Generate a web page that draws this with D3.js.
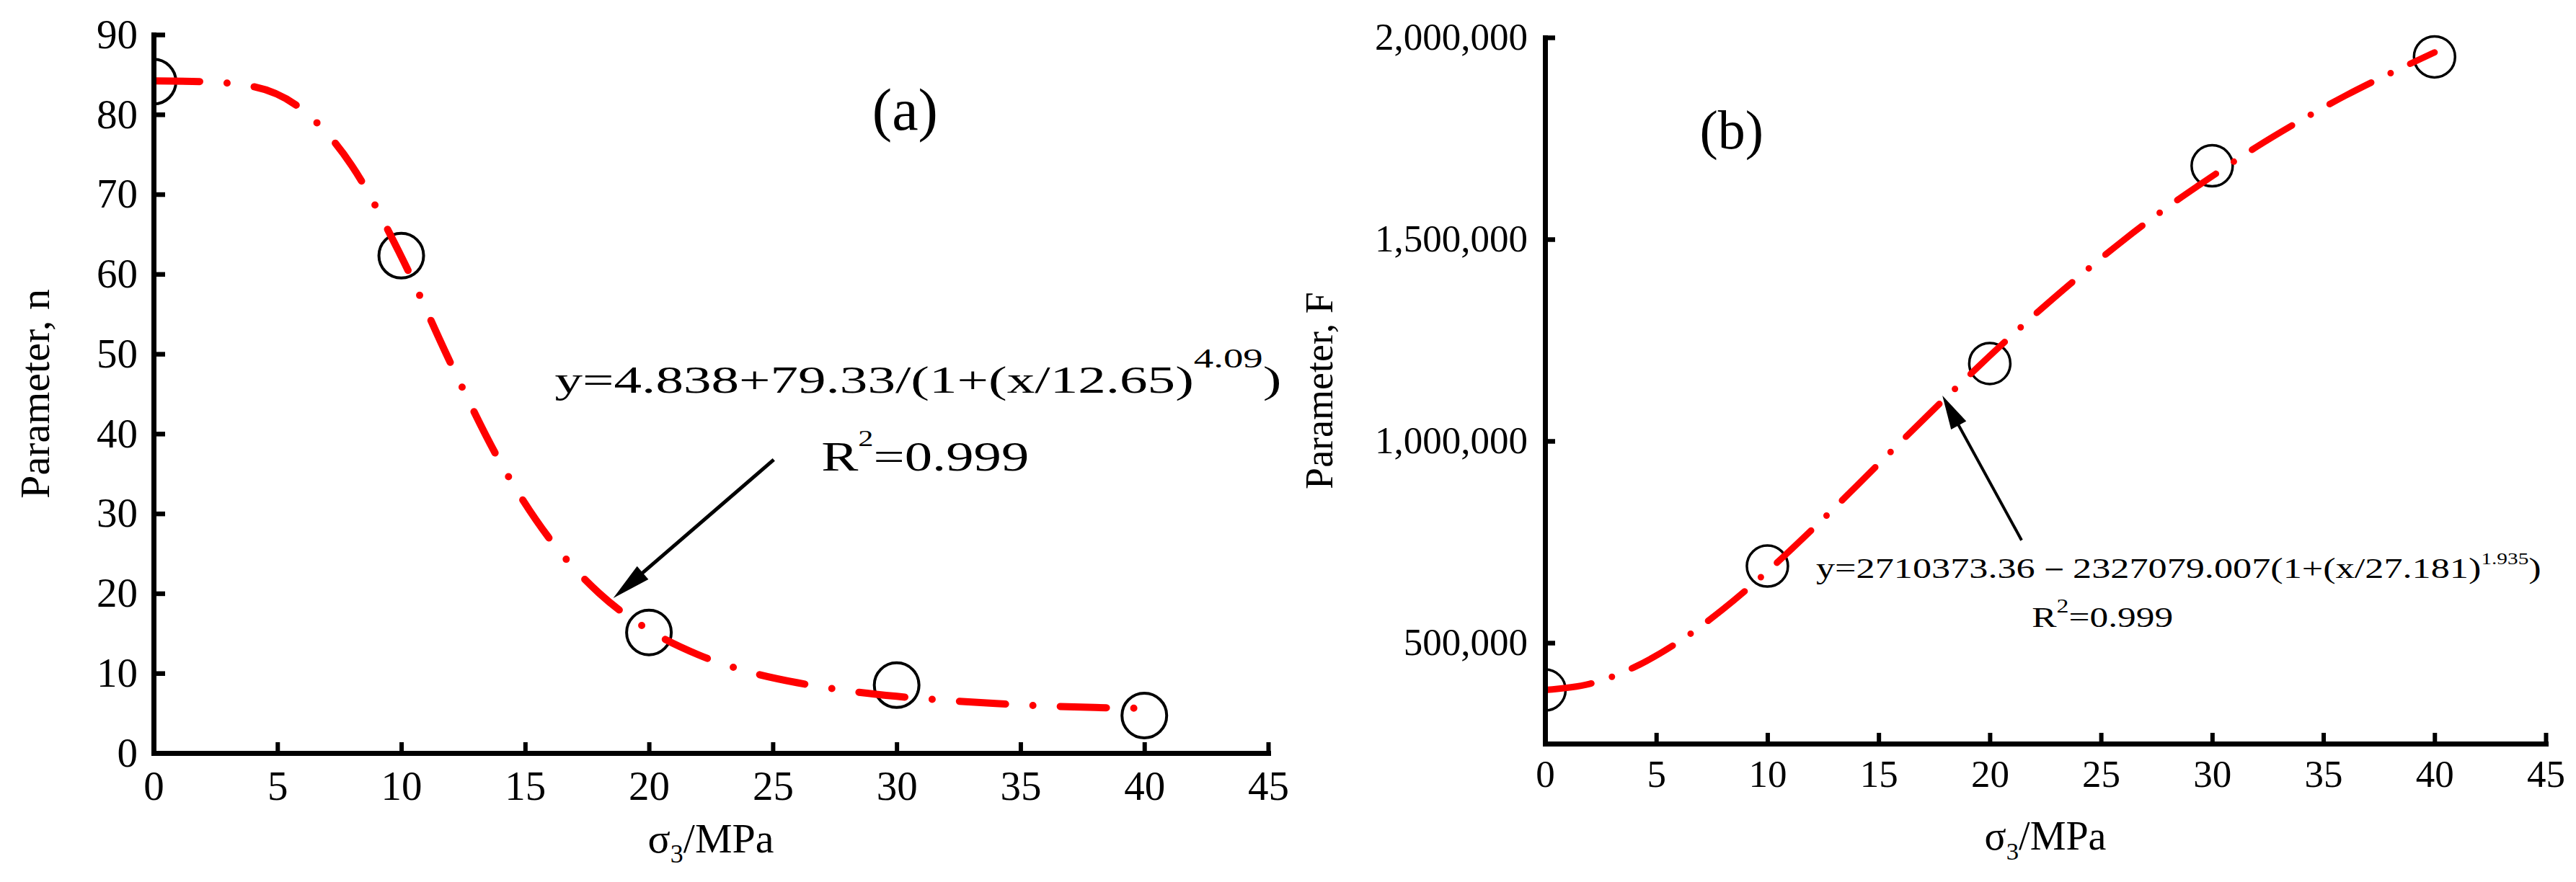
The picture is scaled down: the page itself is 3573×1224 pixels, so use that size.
<!DOCTYPE html>
<html>
<head>
<meta charset="utf-8">
<script src="https://cdn.jsdelivr.net/npm/d3@7"></script>
<style>
html,body{margin:0;padding:0;background:#fff;}
svg{display:block;background:#fff;}
text{font-family:"Liberation Serif","Times New Roman",Times,serif;fill:#000;}
</style>
</head>
<body>
<svg id="chart" width="3573" height="1224"></svg>
<script>
// ---------------- data ----------------
const xTicks = [0, 5, 10, 15, 20, 25, 30, 35, 40, 45];
const sigma3 = [0, 10, 20, 30, 40];
const nValues = [84.1, 62.3, 15.1, 8.5, 4.7];
const fValues = [383000, 690000, 1192000, 1682000, 1952000];
const fitX = [0, 2, 4, 6, 8, 10, 12, 14, 16, 18, 20, 22, 24, 26, 28, 30, 32, 34, 36, 38, 40];
const nFit = [84.2, 84.1, 83.5, 80.6, 73.6, 62.2, 48.8, 36.4, 26.8, 20.0, 15.4, 12.3, 10.2, 8.8, 7.8, 7.1, 6.6, 6.2, 5.9, 5.7, 5.6];
const fFit = [383000, 398000, 439000, 502000, 583000, 677000, 780000, 888000, 998000, 1106000, 1211000, 1312000, 1407000, 1497000, 1580000, 1656000, 1729000, 1795000, 1856000, 1911000, 1963000];
const nTicks = [0, 10, 20, 30, 40, 50, 60, 70, 80, 90];
const fTicks = [500000, 1000000, 1500000, 2000000];
const nTitle = "Parameter, n";
const fTitle = "Parameter, F";
const eqA = ["y=4.838+79.33/(1+(x/12.65)", "4.09", ")"];
const eqB = ["y=2710373.36\uFF0D2327079.007(1+(x/27.181)", "1.935", ")"];
const r2 = ["R", "2", "=0.999"];

// ---------------- setup ----------------
const svg = d3.select("#chart");
const FONT = '"Liberation Serif","Times New Roman",Times,serif';

const panels = [
  {
    id: "a",
    x: d3.scaleLinear().domain([0, 45]).range([213, 1759]),
    y: d3.scaleLinear().domain([0, 90]).range([1045, 48]),
    yTicks: nTicks, yFmt: d3.format("d"),
    pts: nValues, fit: nFit,
    tickFont: 57, xPad: 25, yPad: 22, yTickLen: 16, xTickLen: 15,
    r: 31, circleW: 4, lineW: 10, dash: "64,38,0,38",
    yTitle: nTitle, yTitleX: 68, yTitleFont: 58,
    xTitleY: 1183, xTitleFont: 58,
    label: "(a)", labelAt: [30.34, 78.1], labelFont: 82,
    arrow: {tail: [25.04, 36.75], tip: [18.56, 19.4], w: 5, head: 54, half: 12},
    eq: eqA, eqAt: [16.2, 45.1], eqFont: 52, eqW: 1008, eqSup: 37, eqShift: 35,
    r2At: [26.96, 35.4], r2Font: 58, r2W: 288, r2Sup: 32, r2Shift: 34
  },
  {
    id: "b",
    x: d3.scaleLinear().domain([0, 45]).range([2143, 3531]),
    y: d3.scaleLinear().domain([250000, 2000000]).range([1032, 52]),
    yTicks: fTicks, yFmt: d3.format(","),
    pts: fValues, fit: fFit,
    tickFont: 53, xPad: 22, yPad: 24, yTickLen: 14, xTickLen: 15,
    r: 28.5, circleW: 3.5, lineW: 9, dash: "65,30,0,30",
    yTitle: fTitle, yTitleX: 1848, yTitleFont: 54,
    xTitleY: 1179, xTitleFont: 56,
    label: "(b)", labelAt: [8.39, 1724800], labelFont: 76,
    arrow: {tail: [21.43, 754100], tip: [17.87, 1112300], w: 4, head: 47, half: 12},
    eq: eqB, eqAt: [12.19, 661300], eqFont: 41, eqW: 1006, eqSup: 23, eqShift: 19,
    r2At: [21.89, 540000], r2Font: 41, r2W: 196, r2Sup: 27, r2Shift: 20
  }
];

function styleAxis(g, fontSize) {
  g.attr("font-family", null).attr("font-size", null);
  g.select(".domain").attr("stroke", "#000").attr("stroke-width", 7).attr("stroke-linecap", "square");
  g.selectAll(".tick line").attr("stroke", "#000").attr("stroke-width", 6);
  g.selectAll(".tick text").attr("font-size", fontSize).attr("font-family", FONT).attr("fill", "#000");
}

function stretchText(parent, px, py, font, targetW, parts, supFont, supShift) {
  const g = parent.append("g").attr("transform", `translate(${px},${py})`);
  const t = g.append("text").attr("x", 0).attr("y", 0).attr("font-size", font).attr("text-anchor", "start");
  t.append("tspan").text(parts[0]);
  t.append("tspan").attr("font-size", supFont).attr("dy", -supShift).text(parts[1]);
  t.append("tspan").attr("dy", supShift).text(parts[2]);
  const w = t.node().getBBox().width;
  g.attr("transform", `translate(${px},${py}) scale(${targetW / w},1)`);
}

panels.forEach(p => {
  const x = p.x, y = p.y;
  const [x0, x1] = x.range();
  const [yb, yt] = y.range();

  // clip
  const clipId = "clip-" + p.id;
  svg.append("clipPath").attr("id", clipId)
    .append("rect").attr("x", x0).attr("y", yt - 40).attr("width", x1 - x0 + 40).attr("height", yb - yt + 40);

  const plot = svg.append("g").attr("clip-path", `url(#${clipId})`);

  // markers
  plot.selectAll("circle.pt").data(sigma3).join("circle")
    .attr("class", "pt")
    .attr("cx", d => x(d))
    .attr("cy", (d, i) => y(p.pts[i]))
    .attr("r", p.r)
    .attr("fill", "none")
    .attr("stroke", "#000")
    .attr("stroke-width", p.circleW);

  // fit curve
  const line = d3.line().x(d => x(d)).y((d, i) => y(p.fit[i])).curve(d3.curveMonotoneX);
  plot.append("path")
    .datum(fitX)
    .attr("d", line)
    .attr("fill", "none")
    .attr("stroke", "#ff0000")
    .attr("stroke-width", p.lineW)
    .attr("stroke-linecap", "round")
    .attr("stroke-dasharray", p.dash);

  // axes
  const gx = svg.append("g").attr("transform", `translate(0,${yb})`)
    .call(d3.axisBottom(x).tickValues(xTicks).tickFormat(d3.format("d"))
      .tickSizeInner(-p.xTickLen).tickSizeOuter(0).tickPadding(p.xPad));
  styleAxis(gx, p.tickFont);

  const gy = svg.append("g").attr("transform", `translate(${x0},0)`)
    .call(d3.axisLeft(y).tickValues(p.yTicks).tickFormat(p.yFmt)
      .tickSizeInner(-p.yTickLen).tickSizeOuter(0).tickPadding(p.yPad));
  styleAxis(gy, p.tickFont);
  gy.selectAll(".tick line").attr("stroke-width", 6.5);

  // axis titles
  const xt = svg.append("text")
    .attr("x", (x0 + x1) / 2).attr("y", p.xTitleY)
    .attr("text-anchor", "middle").attr("font-size", p.xTitleFont);
  xt.append("tspan").text("\u03C3");
  xt.append("tspan").attr("font-size", p.xTitleFont * 0.62).attr("dy", 14).text("3");
  xt.append("tspan").attr("dy", -14).text("/MPa");

  svg.append("text")
    .attr("transform", `translate(${p.yTitleX},${(yb + yt) / 2}) rotate(-90)`)
    .attr("text-anchor", "middle").attr("font-size", p.yTitleFont)
    .text(p.yTitle);

  // panel label
  svg.append("text")
    .attr("x", x(p.labelAt[0])).attr("y", y(p.labelAt[1]))
    .attr("text-anchor", "middle").attr("font-size", p.labelFont)
    .text(p.label);

  // arrow
  const tx = x(p.arrow.tail[0]), ty = y(p.arrow.tail[1]);
  const hx = x(p.arrow.tip[0]), hy = y(p.arrow.tip[1]);
  const dx = hx - tx, dy = hy - ty, L = Math.hypot(dx, dy);
  const ux = dx / L, uy = dy / L;
  const bx = hx - ux * p.arrow.head, by = hy - uy * p.arrow.head;
  svg.append("line")
    .attr("x1", tx).attr("y1", ty).attr("x2", bx + ux * 4).attr("y2", by + uy * 4)
    .attr("stroke", "#000").attr("stroke-width", p.arrow.w);
  svg.append("polygon")
    .attr("points", [
      [hx, hy],
      [bx - uy * p.arrow.half, by + ux * p.arrow.half],
      [bx + uy * p.arrow.half, by - ux * p.arrow.half]
    ].map(q => q.join(",")).join(" "))
    .attr("fill", "#000");

  // equation + R2
  stretchText(svg, x(p.eqAt[0]), y(p.eqAt[1]), p.eqFont, p.eqW, p.eq, p.eqSup, p.eqShift);
  stretchText(svg, x(p.r2At[0]), y(p.r2At[1]), p.r2Font, p.r2W, r2, p.r2Sup, p.r2Shift);
});
</script>
</body>
</html>
